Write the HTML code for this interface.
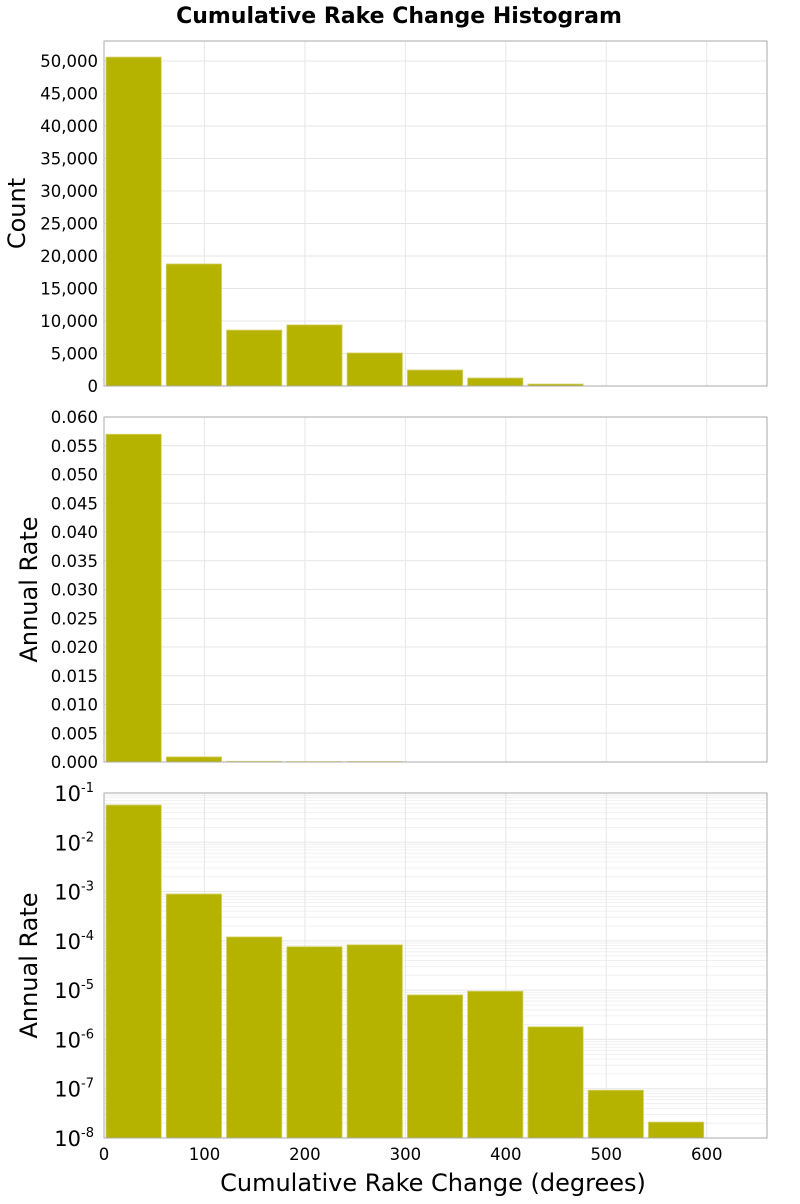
<!DOCTYPE html>
<html><head><meta charset="utf-8"><style>
body{margin:0;background:#fff;font-family:"DejaVu Sans","Liberation Sans",sans-serif}
</style></head><body>
<svg id="c" width="800" height="1200" xmlns="http://www.w3.org/2000/svg">
<text x="399" y="23" text-anchor="middle" font-size="22" font-weight="bold">Cumulative Rake Change Histogram</text>
</svg>
<script>
const binStarts=[0,60,120,180,240,300,360,420,480,540];
const counts=[50600,18770,8600,9400,5080,2460,1230,300,20,5];
const rates=[0.057,0.00089,0.00012,0.000076,0.000083,0.000008,0.0000095,0.0000018,0.000000093,0.000000021];
const countTicks=[0,5000,10000,15000,20000,25000,30000,35000,40000,45000,50000];
const rateTicks=[0,0.005,0.01,0.015,0.02,0.025,0.03,0.035,0.04,0.045,0.05,0.055,0.06];
const logTicks=[-8,-7,-6,-5,-4,-3,-2,-1];
const xTicks=[0,100,200,300,400,500,600];
const binWidth=60;
const svg=document.getElementById('c');
const NS='http://www.w3.org/2000/svg';
const L=104,R=767;
const xs=v=>L+(v/660)*(R-L);
function mk(tag,attrs,parent){const e=document.createElementNS(NS,tag);for(const k in attrs)e.setAttribute(k,attrs[k]);(parent||svg).appendChild(e);return e;}
function panel(top,bot,name,ys,ticks,fmt,vals,title,isLog){
  const g=mk('g',{});
  
  
  if(isLog){for(let d=-8;d<-1;d++)for(let m=2;m<10;m++){const y=ys(Math.log10(m)+d);mk('line',{x1:L,x2:R,y1:y,y2:y,stroke:'#f0f0f0','stroke-width':1},g);}}
  ticks.forEach(t=>{const y=ys(t);mk('line',{x1:L,x2:R,y1:y,y2:y,stroke:'#e6e6e6','stroke-width':1},g);});
  xTicks.forEach(t=>{const x=xs(t);mk('line',{x1:x,x2:x,y1:top,y2:bot,stroke:'#e6e6e6','stroke-width':1},g);});
  vals.forEach((v,i)=>{
    const x0=xs(binStarts[i])+2,x1=xs(binStarts[i]+binWidth)-3;
    const yv=isLog?ys(Math.log10(v)):ys(v);
    const y=Math.max(top,Math.min(bot,yv));
    const r=mk('rect',{x:x0,y:y,width:x1-x0,height:Math.max(0,bot-y),fill:'#b5b300',stroke:'#d2d060','stroke-width':0.8},g);
    
    
  });
  mk('rect',{x:L,y:top,width:R-L,height:bot-top,fill:'none',stroke:'#aaa','stroke-width':1},g);
  ticks.forEach(t=>{const y=ys(t);
    if(isLog){const tx=mk('text',{x:L-10,y:y+8,'text-anchor':'end','font-size':21},g);
      tx.innerHTML='10<tspan dy="-9" font-size="13">'+t+'</tspan>';
      }
    else{const tx=mk('text',{x:L-6,y:y+6,'text-anchor':'end','font-size':16.5},g);tx.textContent=fmt(t);
      }
  });
  const cy=(top+bot)/2;
  const tt=mk('text',{x:0,y:0,'text-anchor':'middle','font-size':24,transform:`translate(${title==='Count'?25:37},${cy}) rotate(-90)`},g);
  tt.textContent=title;
  
  
}
panel(41,386,'count-panel',v=>386-v/53077*345,countTicks,t=>t.toLocaleString('en-US'),counts,'Count',false);
panel(417,762,'rate-panel',v=>762-v/0.06*345,rateTicks,t=>t.toFixed(3),rates,'Annual Rate',false);
panel(793,1138,'log-rate-panel',v=>793+(-1-v)/7*345,logTicks,null,rates,'Annual Rate',true);
xTicks.forEach(t=>{const tx=mk('text',{x:xs(t),y:1160,'text-anchor':'middle','font-size':16.5});tx.textContent=t;
  
  });
const xt=mk('text',{x:433,y:1191,'text-anchor':'middle','font-size':24});
xt.textContent='Cumulative Rake Change (degrees)';


</script>
</body></html>
